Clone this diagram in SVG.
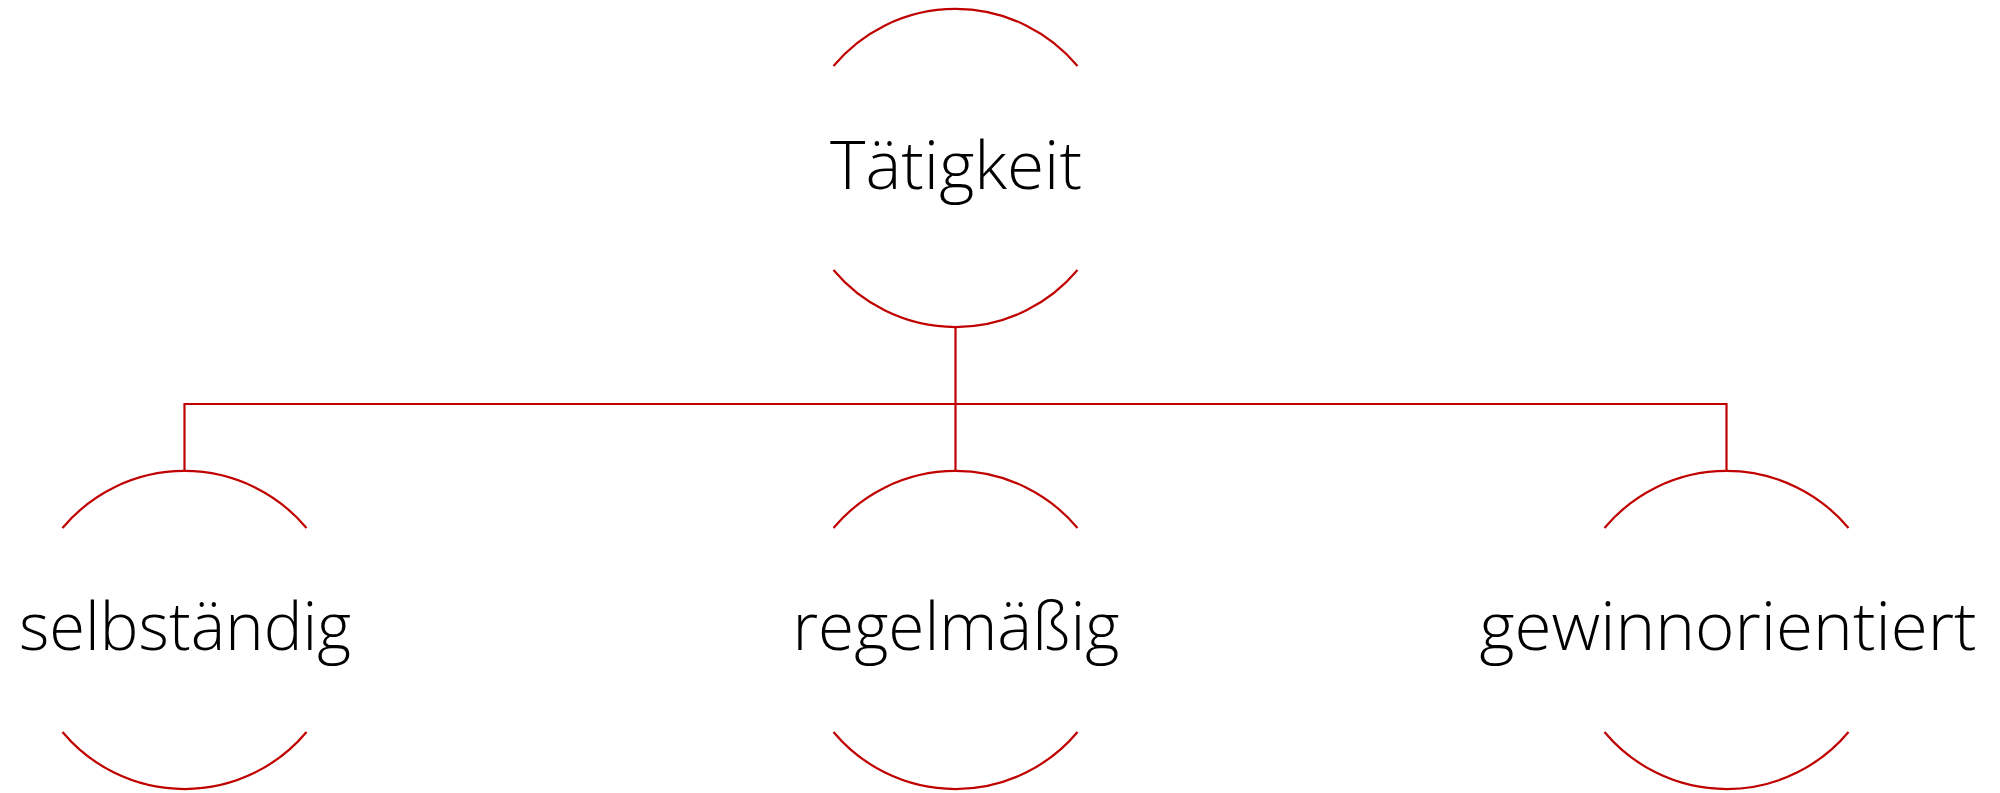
<svg xmlns="http://www.w3.org/2000/svg" width="2000" height="793" viewBox="0 0 2000 793">
<style>
.arc{fill:none;stroke:#C00000;stroke-width:2.2}
.con{fill:none;stroke:#C00000;stroke-width:2.2}
.lbl{font-family:"Open Sans","Liberation Sans",sans-serif;font-weight:300;font-size:66px;fill:#000;text-anchor:middle}
</style>
<rect width="2000" height="793" fill="#fff"/>
<g id="connectors">
<path class="con" d="M955.5 327 V471"/>
<path class="con" d="M184.5 471 V404 H1726.5 V471"/>
</g>
<g id="node-taetigkeit">
<path class="arc" d="M833.5 66 A159 159 0 0 1 1077.5 66"/>
<path class="arc" d="M833.5 270 A159 159 0 0 0 1077.5 270"/>
<text class="lbl" x="956" y="189" textLength="252" lengthAdjust="spacingAndGlyphs">Tätigkeit</text>
</g>
<g id="node-selbstaendig">
<path class="arc" d="M62.5 528 A159 159 0 0 1 306.5 528"/>
<path class="arc" d="M62.5 732 A159 159 0 0 0 306.5 732"/>
<text class="lbl" x="185" y="650" textLength="332" lengthAdjust="spacingAndGlyphs">selbständig</text>
</g>
<g id="node-regelmaessig">
<path class="arc" d="M833.5 528 A159 159 0 0 1 1077.5 528"/>
<path class="arc" d="M833.5 732 A159 159 0 0 0 1077.5 732"/>
<text class="lbl" x="956" y="650" textLength="327" lengthAdjust="spacingAndGlyphs">regelmäßig</text>
</g>
<g id="node-gewinnorientiert">
<path class="arc" d="M1604.5 528 A159 159 0 0 1 1848.5 528"/>
<path class="arc" d="M1604.5 732 A159 159 0 0 0 1848.5 732"/>
<text class="lbl" x="1728" y="650" textLength="497" lengthAdjust="spacingAndGlyphs">gewinnorientiert</text>
</g>
</svg>
